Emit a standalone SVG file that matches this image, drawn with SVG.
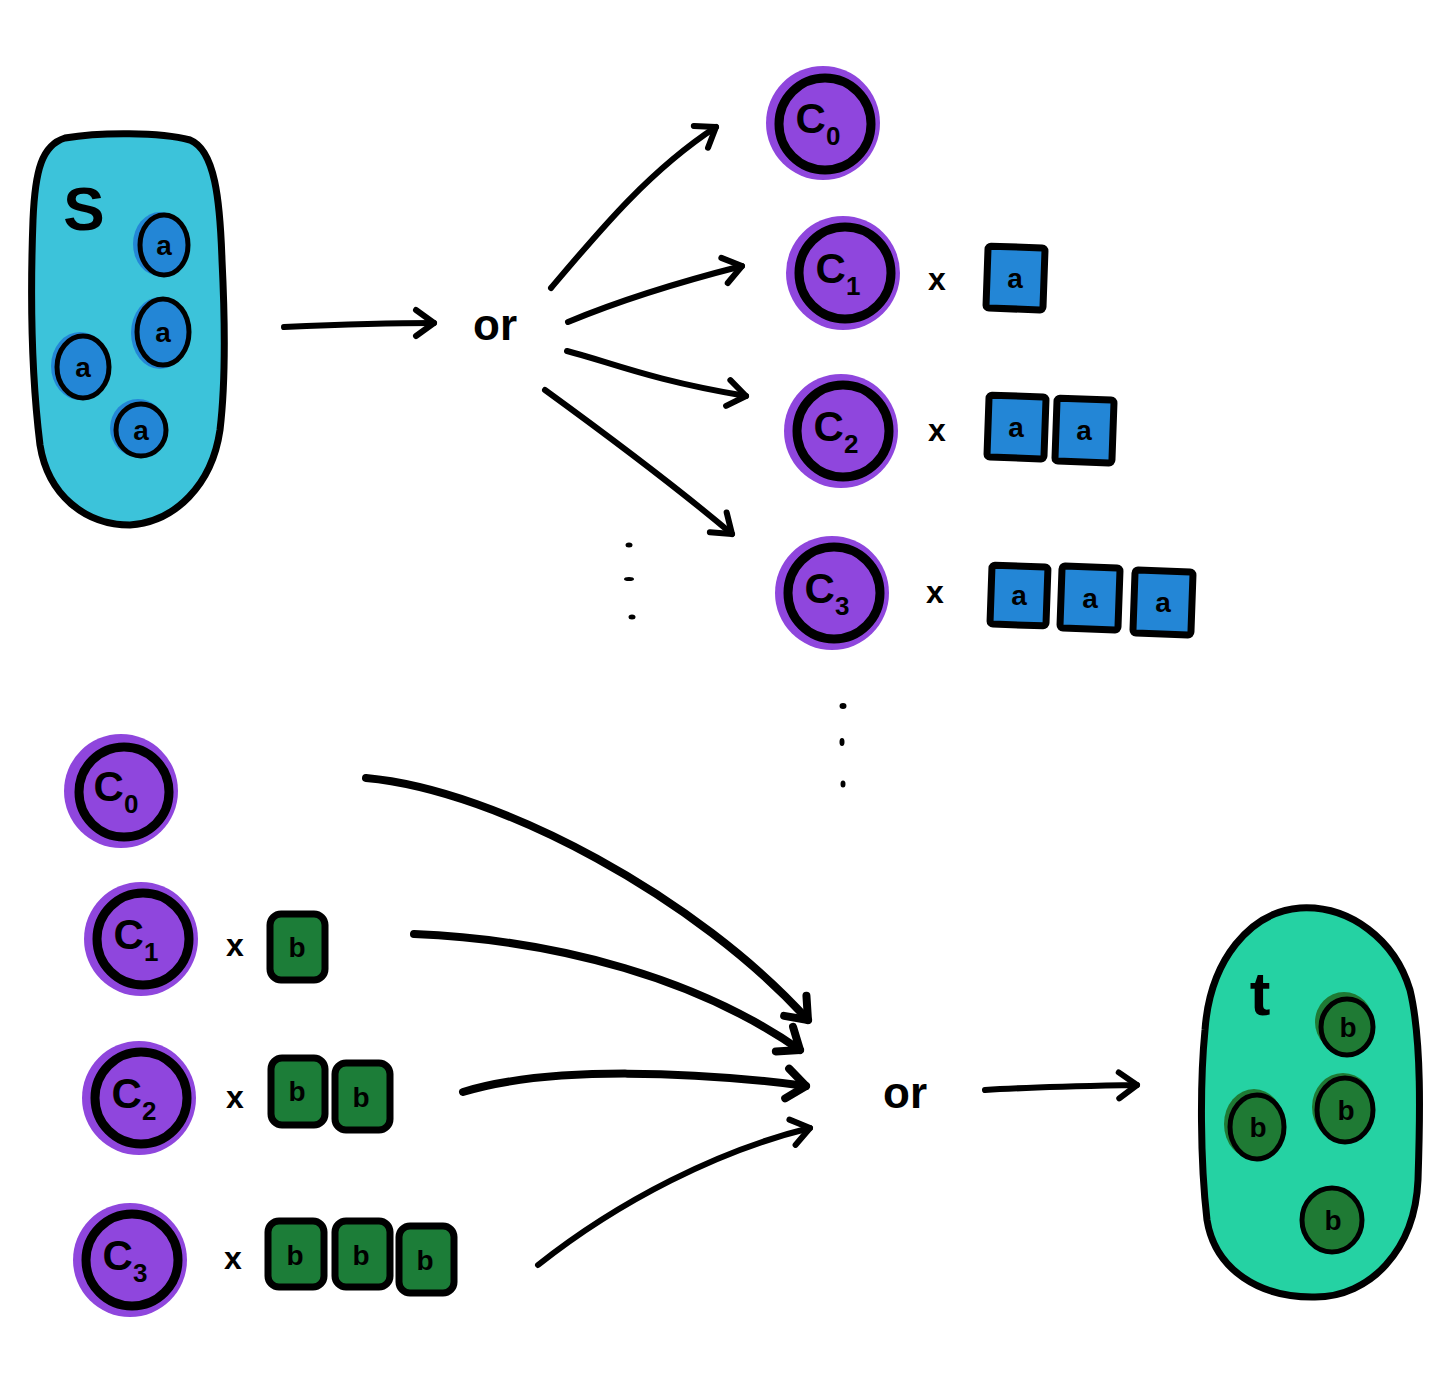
<svg xmlns="http://www.w3.org/2000/svg" width="1447" height="1380" viewBox="0 0 1447 1380">
<defs>
<style>
.bg{fill:#ffffff}
.blobS{fill:#3CC3DA;stroke:#000;stroke-width:7;stroke-linejoin:round}
.blobT{fill:#25D2A3;stroke:#000;stroke-width:7;stroke-linejoin:round}
.ca{fill:#2386D6;stroke:#000;stroke-width:5}
.cb{fill:#1F7A34;stroke:#000;stroke-width:5}
.halo-a{fill:#2386D6}
.halo-b{fill:#1F7A34}
.cp{fill:#8F46DD}
.ring{fill:none;stroke:#000;stroke-width:9}
.sqa{fill:#2386D6;stroke:#000;stroke-width:7;stroke-linejoin:round}
.sqb{fill:#1C7D38;stroke:#000;stroke-width:7;stroke-linejoin:round}
.lbl{font-family:"Liberation Sans",Arial,sans-serif;font-weight:bold;fill:#000}
.big{font-size:62px}
.cl{font-size:42px}
.sub{font-size:26px}
.small{font-size:28px}
.or{font-size:44px}
.x{font-size:32px}
.conn{fill:none;stroke:#000;stroke-width:6;stroke-linecap:round}
.conn2{fill:none;stroke:#000;stroke-width:8;stroke-linecap:round}
.dot{fill:#000}
</style>
<marker id="ah" markerUnits="userSpaceOnUse" markerWidth="50" markerHeight="50" viewBox="-30 -25 50 50" refX="0" refY="0" orient="auto">
<path d="M-18,-13 L0,0 L-18,13" fill="none" stroke="#000" stroke-width="6" stroke-linecap="round" stroke-linejoin="round"/>
</marker>
<marker id="ah2" markerUnits="userSpaceOnUse" markerWidth="50" markerHeight="50" viewBox="-30 -25 50 50" refX="0" refY="0" orient="auto">
<path d="M-19,-15 L0,0 L-19,15" fill="none" stroke="#000" stroke-width="8" stroke-linecap="round" stroke-linejoin="round"/>
</marker>
</defs>
<rect class="bg" x="0" y="0" width="1447" height="1380"/>

<g id="set-s">
<path class="blobS" d="M 65 138 C 100 132 160 132 190 140 C 215 150 220 200 222 260 C 225 320 226 380 220 430 C 212 485 175 522 130 525 C 85 525 48 495 40 445 C 32 380 30 300 33 220 C 35 170 42 145 65 138 Z"/>
<text class="lbl big" x="84" y="230" text-anchor="middle">S</text>
<ellipse class="halo-a" cx="160" cy="244" rx="27" ry="32"/>
<ellipse class="ca" cx="164" cy="245" rx="24" ry="30"/>
<text class="lbl small" x="164" y="255" text-anchor="middle">a</text>
<ellipse class="halo-a" cx="160" cy="333" rx="29" ry="36"/>
<ellipse class="ca" cx="163" cy="332" rx="26" ry="33"/>
<text class="lbl small" x="163" y="342" text-anchor="middle">a</text>
<ellipse class="halo-a" cx="80" cy="366" rx="29" ry="34"/>
<ellipse class="ca" cx="83" cy="367" rx="26" ry="31"/>
<text class="lbl small" x="83" y="377" text-anchor="middle">a</text>
<ellipse class="halo-a" cx="138" cy="428" rx="28" ry="29"/>
<ellipse class="ca" cx="141" cy="430" rx="25" ry="26"/>
<text class="lbl small" x="141" y="440" text-anchor="middle">a</text>
</g>

<g id="or-top">
<text class="lbl or" x="495" y="340" text-anchor="middle">or</text>
</g>

<g id="top-c0">
<circle class="cp" cx="823" cy="123" r="57"/>
<circle class="ring" cx="825" cy="124" r="46"/>
<text class="lbl cl" x="818" y="133" text-anchor="middle">C<tspan class="sub" dy="12">0</tspan></text>
</g>

<g id="top-c1">
<circle class="cp" cx="843" cy="273" r="57"/>
<circle class="ring" cx="845" cy="273" r="46"/>
<text class="lbl cl" x="838" y="283" text-anchor="middle">C<tspan class="sub" dy="12">1</tspan></text>
<text class="lbl x" x="937" y="290" text-anchor="middle">x</text>
<rect class="sqa" x="987" y="247" width="57" height="62" rx="3" transform="rotate(2 1015 278)"/>
<text class="lbl small" x="1015" y="288" text-anchor="middle">a</text>
</g>

<g id="top-c2">
<circle class="cp" cx="841" cy="431" r="57"/>
<circle class="ring" cx="843" cy="431" r="46"/>
<text class="lbl cl" x="836" y="441" text-anchor="middle">C<tspan class="sub" dy="12">2</tspan></text>
<text class="lbl x" x="937" y="441" text-anchor="middle">x</text>
<rect class="sqa" x="988" y="396" width="57" height="62" rx="3" transform="rotate(2 1016 427)"/>
<text class="lbl small" x="1016" y="437" text-anchor="middle">a</text>
<rect class="sqa" x="1056" y="399" width="57" height="63" rx="3" transform="rotate(2 1084 430)"/>
<text class="lbl small" x="1084" y="440" text-anchor="middle">a</text>
</g>

<g id="top-c3">
<circle class="cp" cx="832" cy="593" r="57"/>
<circle class="ring" cx="834" cy="593" r="46"/>
<text class="lbl cl" x="827" y="603" text-anchor="middle">C<tspan class="sub" dy="12">3</tspan></text>
<text class="lbl x" x="935" y="603" text-anchor="middle">x</text>
<rect class="sqa" x="991" y="566" width="56" height="59" rx="3" transform="rotate(2 1019 595)"/>
<text class="lbl small" x="1019" y="605" text-anchor="middle">a</text>
<rect class="sqa" x="1061" y="567" width="58" height="62" rx="3" transform="rotate(2 1090 598)"/>
<text class="lbl small" x="1090" y="608" text-anchor="middle">a</text>
<rect class="sqa" x="1134" y="571" width="58" height="63" rx="3" transform="rotate(2 1163 602)"/>
<text class="lbl small" x="1163" y="612" text-anchor="middle">a</text>
</g>

<g id="dots">
<ellipse class="dot" cx="629" cy="545" rx="3.5" ry="2.5"/>
<ellipse class="dot" cx="629" cy="579" rx="5" ry="2"/>
<ellipse class="dot" cx="632" cy="617" rx="3.5" ry="2.5"/>
<ellipse class="dot" cx="843" cy="706" rx="3.5" ry="3"/>
<ellipse class="dot" cx="842" cy="742" rx="2.5" ry="4"/>
<ellipse class="dot" cx="843" cy="784" rx="2.5" ry="3.5"/>
</g>

<g id="bot-c0">
<circle class="cp" cx="121" cy="791" r="57"/>
<circle class="ring" cx="124" cy="792" r="45"/>
<text class="lbl cl" x="116" y="801" text-anchor="middle">C<tspan class="sub" dy="12">0</tspan></text>
</g>

<g id="bot-c1">
<circle class="cp" cx="141" cy="939" r="57"/>
<circle class="ring" cx="143" cy="939" r="46"/>
<text class="lbl cl" x="136" y="949" text-anchor="middle">C<tspan class="sub" dy="12">1</tspan></text>
<text class="lbl x" x="235" y="956" text-anchor="middle">x</text>
<rect class="sqb" x="270" y="914" width="55" height="66" rx="11"/>
<text class="lbl small" x="297" y="957" text-anchor="middle">b</text>
</g>

<g id="bot-c2">
<circle class="cp" cx="139" cy="1098" r="57"/>
<circle class="ring" cx="141" cy="1098" r="46"/>
<text class="lbl cl" x="134" y="1108" text-anchor="middle">C<tspan class="sub" dy="12">2</tspan></text>
<text class="lbl x" x="235" y="1108" text-anchor="middle">x</text>
<rect class="sqb" x="271" y="1058" width="54" height="67" rx="11"/>
<text class="lbl small" x="297" y="1101" text-anchor="middle">b</text>
<rect class="sqb" x="335" y="1063" width="55" height="67" rx="11"/>
<text class="lbl small" x="361" y="1107" text-anchor="middle">b</text>
</g>

<g id="bot-c3">
<circle class="cp" cx="130" cy="1260" r="57"/>
<circle class="ring" cx="132" cy="1260" r="46"/>
<text class="lbl cl" x="125" y="1270" text-anchor="middle">C<tspan class="sub" dy="12">3</tspan></text>
<text class="lbl x" x="233" y="1269" text-anchor="middle">x</text>
<rect class="sqb" x="268" y="1221" width="56" height="66" rx="11"/>
<text class="lbl small" x="295" y="1265" text-anchor="middle">b</text>
<rect class="sqb" x="335" y="1221" width="55" height="66" rx="11"/>
<text class="lbl small" x="361" y="1265" text-anchor="middle">b</text>
<rect class="sqb" x="399" y="1226" width="55" height="67" rx="11"/>
<text class="lbl small" x="425" y="1270" text-anchor="middle">b</text>
</g>

<g id="or-bottom">
<text class="lbl or" x="905" y="1108" text-anchor="middle">or</text>
</g>

<g id="set-t">
<path class="blobT" d="M 1300 908 C 1350 905 1395 940 1410 990 C 1422 1040 1420 1120 1418 1180 C 1415 1250 1370 1297 1315 1297 C 1260 1298 1215 1270 1207 1220 C 1200 1160 1200 1080 1205 1030 C 1210 960 1250 912 1300 908 Z"/>
<text class="lbl big" x="1260" y="1015" text-anchor="middle">t</text>
<ellipse class="halo-b" cx="1344" cy="1022" rx="29" ry="30"/>
<ellipse class="cb" cx="1347" cy="1027" rx="26" ry="28"/>
<text class="lbl small" x="1348" y="1037" text-anchor="middle">b</text>
<ellipse class="halo-b" cx="1343" cy="1107" rx="31" ry="34"/>
<ellipse class="cb" cx="1345" cy="1110" rx="28" ry="32"/>
<text class="lbl small" x="1346" y="1120" text-anchor="middle">b</text>
<ellipse class="halo-b" cx="1254" cy="1124" rx="30" ry="35"/>
<ellipse class="cb" cx="1257" cy="1127" rx="27" ry="32"/>
<text class="lbl small" x="1258" y="1137" text-anchor="middle">b</text>
<ellipse class="cb" cx="1332" cy="1220" rx="30" ry="32"/>
<text class="lbl small" x="1333" y="1230" text-anchor="middle">b</text>
</g>

<g id="connectors">
<path class="conn" marker-end="url(#ah)" d="M 284 327 C 330 325 390 323 434 323"/>
<path class="conn" marker-end="url(#ah)" d="M 551 288 C 600 230 650 170 716 127"/>
<path class="conn" marker-end="url(#ah)" d="M 568 322 Q 640 292 742 266"/>
<path class="conn" marker-end="url(#ah)" d="M 567 351 C 610 362 650 380 746 396"/>
<path class="conn" marker-end="url(#ah)" d="M 545 390 C 600 430 680 490 732 534"/>
<path class="conn2" marker-end="url(#ah2)" d="M 366 778 C 500 790 700 900 808 1020"/>
<path class="conn2" marker-end="url(#ah2)" d="M 414 934 C 560 940 700 980 800 1050"/>
<path class="conn2" marker-end="url(#ah2)" d="M 463 1092 C 550 1065 700 1072 806 1086"/>
<path class="conn" marker-end="url(#ah)" d="M 538 1265 C 620 1200 720 1150 810 1128"/>
<path class="conn" marker-end="url(#ah)" d="M 985 1090 C 1030 1087 1090 1086 1137 1085"/>
</g>
</svg>
